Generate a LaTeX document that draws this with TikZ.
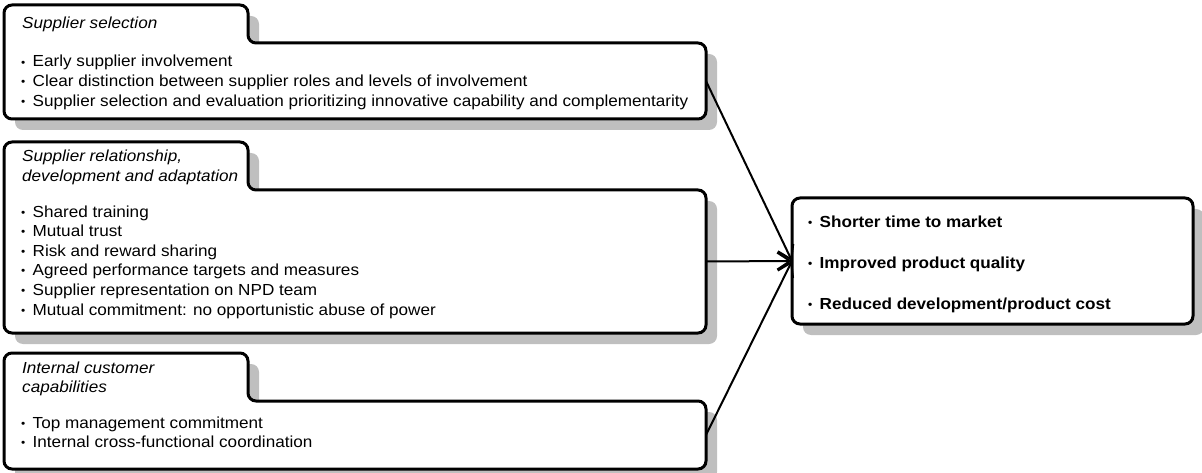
\documentclass[tikz,border=0pt]{standalone}
\usepackage{fontspec}
\setmainfont[FakeStretch=1.07]{Liberation Sans}
\usetikzlibrary{arrows.meta,shadows}
% small bullet followed by a fixed gap
\newcommand\bul{\makebox[11.5pt][l]{\raisebox{0.1ex}{\scalebox{0.7}{\textbullet}}}}
\begin{document}
\begin{tikzpicture}[x=1pt,y=-1pt,
  shade/.style={drop shadow={shadow xshift=11pt,shadow yshift=-11pt,fill=black!25,opacity=1}},
  panel/.style={draw=black,line width=3pt,fill=white,rounded corners=8pt,shade},
  body/.style={rectangle,inner sep=0pt,outer sep=0pt,minimum width=#1},
  txt/.style={anchor=base west,align=left,inner sep=0pt,font=\fontsize{16}{19.6}\selectfont},
  ttl/.style={anchor=base west,align=left,inner sep=0pt,font=\fontsize{16}{19.3}\selectfont\itshape},
  res/.style={anchor=base west,align=left,inner sep=0pt,font=\fontsize{16}{41}\selectfont\bfseries},
  link/.style={line width=2pt,-{Straight Barb[length=13pt,width=17pt]}}]
\useasboundingbox (0,0) rectangle (1202,473);

% main bodies of the three driver panels and the outcome box
\node[body=702pt,minimum height=76pt] (sel) at (355,81) {};
\node[body=702pt,minimum height=143pt] (rel) at (355,261.5) {};
\node[body=702pt,minimum height=68pt] (int) at (355,435) {};
\coordinate (t1) at (248,5);
\coordinate (t2) at (248,142);
\coordinate (t3) at (248,353);

% panels with a title tab on the upper left
\draw[panel] (sel.south west) -- (sel.west |- t1) -- (t1) -- (t1 |- sel.north)
  -- (sel.north east) -- (sel.south east) -- cycle;
\draw[panel] (rel.south west) -- (rel.west |- t2) -- (t2) -- (t2 |- rel.north)
  -- (rel.north east) -- (rel.south east) -- cycle;
\draw[panel] (int.south west) -- (int.west |- t3) -- (t3) -- (t3 |- int.north)
  -- (int.north east) -- (int.south east) -- cycle;

\node[rectangle,draw=black,line width=3pt,fill=white,rounded corners=8pt,shade,
  inner sep=0pt,outer sep=0pt,minimum width=401pt,minimum height=126pt] (out) at (992.5,261) {};

% titles (multi-line blocks are placed by the baseline of their last line)
\node[ttl] (selT) at (22,29) {Supplier selection};
\node[ttl] (relT) at (22,181.3) {Supplier relationship,\\development and adaptation};
\node[ttl] (intT) at (22,392.3) {Internal customer\\capabilities};

% item lists
\node[txt] (selL) at (21,106.2) {\bul Early supplier involvement\\
  \bul Clear distinction between supplier roles and levels of involvement\\
  \bul Supplier selection and evaluation prioritizing innovative capability and complementarity};
\node[txt] (relL) at (21,315) {\bul Shared training\\
  \bul Mutual trust\\
  \bul Risk and reward sharing\\
  \bul Agreed performance targets and measures\\
  \bul Supplier representation on NPD team\\
  \bul Mutual commitment: no opportunistic abuse of power};
\node[txt] (intL) at (21,447.6) {\bul Top management commitment\\
  \bul Internal cross-functional coordination};
\node[res] (outL) at (808,309) {\bul Shorter time to market\\
  \bul Improved product quality\\
  \bul Reduced development/product cost};

% connectors
\draw[link] (sel.east) -- (out.west);
\draw[link] (rel.east) -- (out.west);
\draw[link] (int.east) -- (out.west);
\end{tikzpicture}
\end{document}
